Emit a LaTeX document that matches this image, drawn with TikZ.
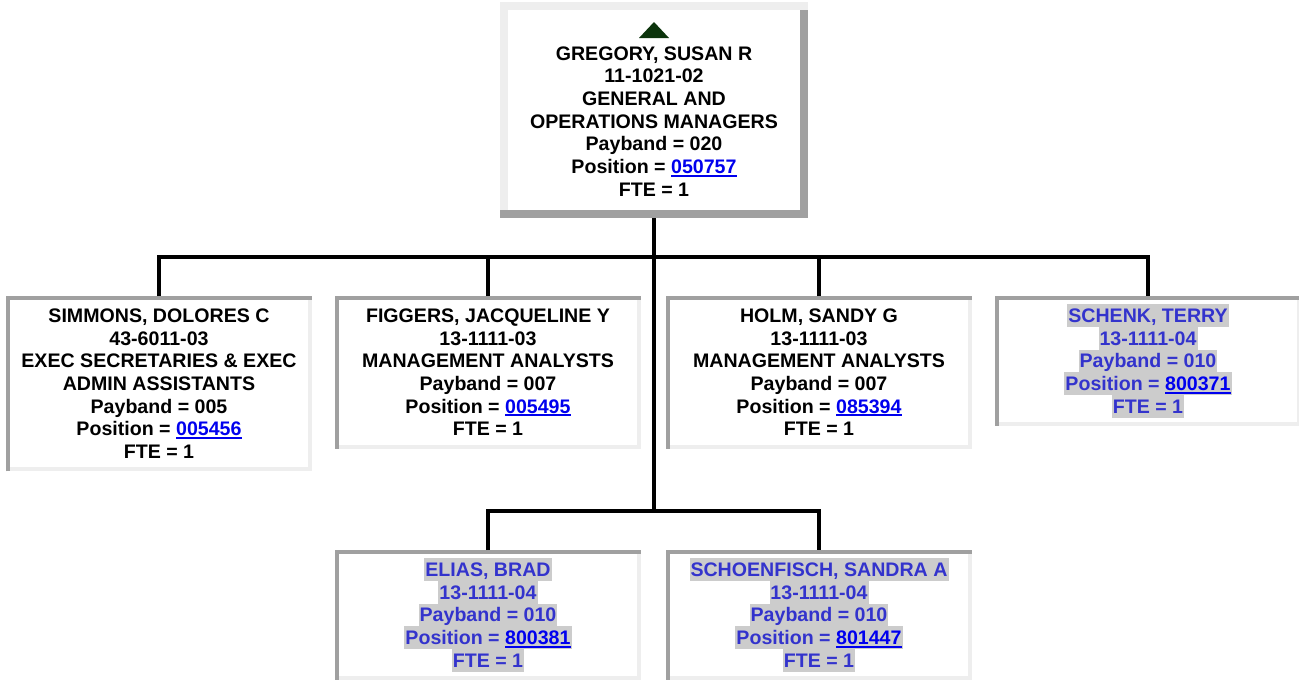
\documentclass[tikz,border=0pt]{standalone}
\usepackage{fontspec}
\setmainfont{Liberation Sans}
\usepackage{tikz}
\definecolor{edgedark}{RGB}{160,160,160}
\definecolor{edgelight}{RGB}{238,238,238}
\definecolor{hlgray}{RGB}{204,204,204}
\definecolor{hltext}{RGB}{51,51,204}
\definecolor{linkblue}{RGB}{0,0,238}
\definecolor{upcol}{RGB}{12,52,12}
\newcommand\chartfont{\fontsize{19.6}{22.7}\selectfont\bfseries}
\newcommand\rowstrut{\rule[-4.5pt]{0pt}{22.7pt}}
\newcommand\hlrow[1]{{\fboxsep=0pt\colorbox{hlgray}{\rowstrut\kern1pt#1\kern1pt}}}
\newcommand\poslink[1]{{\color{linkblue}\setbox0\hbox{#1}\rlap{\rule[-3pt]{\wd0}{2pt}}\box0}}
\tikzset{
  % manager box (raised)
  bossbox/.style={rectangle, fill=white, minimum width=308pt, inner xsep=8pt, inner ysep=17pt,
                  align=center, font=\chartfont},
  % staff box (sunken)
  staffbox/.style={rectangle, fill=white, minimum width=305pt, inner xsep=4pt, inner ysep=8pt,
                   align=center, font=\chartfont},
  % vacant / highlighted staff box
  vacbox/.style={staffbox, text=hltext},
  % org chart line
  orgline/.style={line width=4pt, black},
}
\begin{document}
\begin{tikzpicture}[x=1pt, y=-1pt]
  \useasboundingbox (0,0) rectangle (1299,686);
  % manager
  \node[bossbox, anchor=north] (boss) at (654,2)
    {\rowstrut\\GREGORY, SUSAN R\\11-1021-02\\GENERAL AND\\OPERATIONS MANAGERS\\Payband = 020\\Position = \poslink{050757}\\FTE = 1\rowstrut};
  % first row
  \node[staffbox, anchor=north] (simmons) at (159,296)
    {\rowstrut SIMMONS, DOLORES C\\43-6011-03\\EXEC SECRETARIES \& EXEC\\ADMIN ASSISTANTS\\Payband = 005\\Position = \poslink{005456}\\FTE = 1\rowstrut};
  \node[staffbox, anchor=north] (figgers) at (488,296)
    {\rowstrut FIGGERS, JACQUELINE Y\\13-1111-03\\MANAGEMENT ANALYSTS\\Payband = 007\\Position = \poslink{005495}\\FTE = 1\rowstrut};
  \node[staffbox, anchor=north] (holm) at (819,296)
    {\rowstrut HOLM, SANDY G\\13-1111-03\\MANAGEMENT ANALYSTS\\Payband = 007\\Position = \poslink{085394}\\FTE = 1\rowstrut};
  \node[vacbox, anchor=north] (schenk) at (1148,296)
    {\hlrow{SCHENK, TERRY}\\\hlrow{13-1111-04}\\\hlrow{Payband = 010}\\\hlrow{Position = \poslink{800371}}\\\hlrow{FTE = 1}};
  % second row
  \node[vacbox, anchor=north] (elias) at (488,550)
    {\hlrow{ELIAS, BRAD}\\\hlrow{13-1111-04}\\\hlrow{Payband = 010}\\\hlrow{Position = \poslink{800381}}\\\hlrow{FTE = 1}};
  \node[vacbox, anchor=north] (schoen) at (819,550)
    {\hlrow{SCHOENFISCH, SANDRA A}\\\hlrow{13-1111-04}\\\hlrow{Payband = 010}\\\hlrow{Position = \poslink{801447}}\\\hlrow{FTE = 1}};
  % raised edges of the manager box
  \draw[edgedark, line width=8pt] ([shift={(-4,0)}]boss.north east) -- ([shift={(-4,-4)}]boss.south east) -- ([shift={(0,-4)}]boss.south west);
  \draw[edgelight, line width=8pt] ([shift={(4,-8)}]boss.south west) -- ([shift={(4,4)}]boss.north west) -- ([shift={(0,4)}]boss.north east);
  \fill[upcol] (boss.north) ++(0,20) -- ++(15,16) -- ++(-30,0) -- cycle;
  % sunken edges of the staff boxes
  \foreach \n in {simmons,figgers,holm,schenk,elias,schoen} {
    \draw[edgelight, line width=4pt] ([shift={(-2,0)}]\n.north east) -- ([shift={(-2,-2)}]\n.south east) -- ([shift={(0,-2)}]\n.south west);
    \draw[edgedark, line width=4pt] ([shift={(2,0)}]\n.south west) -- ([shift={(2,2)}]\n.north west) -- ([shift={(0,2)}]\n.north east);
  }
  % connectors
  \coordinate (upbus) at (654,257);
  \coordinate (lowbus) at (654,511);
  \draw[orgline] (boss.south) -- (lowbus);
  \draw[orgline] (simmons.north) -- (simmons.north |- upbus) -- (schenk.north |- upbus) -- (schenk.north);
  \draw[orgline] (figgers.north) -- (figgers.north |- upbus);
  \draw[orgline] (holm.north) -- (holm.north |- upbus);
  \draw[orgline] (elias.north) -- (elias.north |- lowbus) -- (schoen.north |- lowbus) -- (schoen.north);
\end{tikzpicture}
\end{document}
